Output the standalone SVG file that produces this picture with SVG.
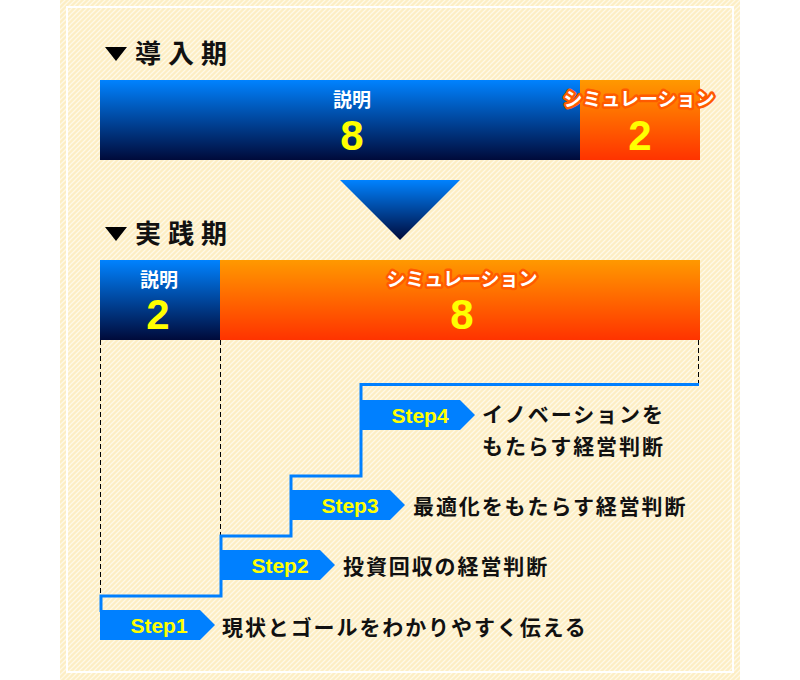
<svg xmlns="http://www.w3.org/2000/svg" width="800" height="680" viewBox="0 0 800 680">
<defs>
  <pattern id="stripes" width="5" height="5" patternUnits="userSpaceOnUse">
    <rect width="5" height="5" fill="#FDEEC4"/>
    <path d="M-1,1 L1,-1 M0,5 L5,0 M4,6 L6,4" stroke="#FFF9E8" stroke-width="1.3"/>
  </pattern>
  <linearGradient id="blue" x1="0" y1="0" x2="0" y2="1">
    <stop offset="0" stop-color="#0082FF"/>
    <stop offset="1" stop-color="#000A3A"/>
  </linearGradient>
  <linearGradient id="orange" x1="0" y1="0" x2="0" y2="1">
    <stop offset="0" stop-color="#FF9900"/>
    <stop offset="1" stop-color="#FF3300"/>
  </linearGradient>
  <style>
    .hdr { font-family: "Noto Sans CJK JP", sans-serif; font-weight: bold; font-size: 26px; fill: #111; letter-spacing: 7px; }
    .tri { fill: #000; }
    .lbl { font-family: "Noto Sans CJK JP", sans-serif; font-weight: bold; font-size: 19px; fill: #fff; text-anchor: middle; }
    .sim { font-family: "Noto Sans CJK JP", sans-serif; font-weight: bold; font-size: 19px; fill: #fff; text-anchor: middle; stroke: #FF5A00; stroke-width: 5px; stroke-linejoin: round; paint-order: stroke; }
    .num { font-family: "Liberation Sans", Arial, sans-serif; font-weight: bold; font-size: 42px; fill: #FFFF00; text-anchor: middle; }
    .dash { stroke: #000; stroke-width: 1; stroke-dasharray: 5 3; fill: none; }
    .stepline { stroke: #0080FF; stroke-width: 3; fill: none; }
    .box { fill: #0080FF; }
    .step { font-family: "Liberation Sans", Arial, sans-serif; font-weight: bold; font-size: 21px; fill: #FFFF00; text-anchor: middle; }
    .desc { font-family: "Noto Sans CJK JP", sans-serif; font-weight: bold; font-size: 21px; fill: #111; letter-spacing: 1.9px; }
  </style>
</defs>

<rect x="0" y="0" width="800" height="680" fill="#fff"/>
<rect x="60" y="0" width="680" height="680" fill="url(#stripes)"/>
<rect x="67" y="7" width="666" height="665" fill="none" stroke="#fff" stroke-width="2"/>

<g id="header-intro">
  <polygon class="tri" points="105,47 127,47 116,61"/>
  <text class="hdr" x="135" y="63">導入期</text>
</g>

<g id="bar-intro-explain">
  <rect x="100" y="80" width="480" height="80" fill="url(#blue)"/>
  <text class="lbl" x="352" y="107">説明</text>
  <text class="num" x="352" y="150">8</text>
</g>
<g id="bar-intro-sim">
  <rect x="580" y="80" width="120" height="80" fill="url(#orange)"/>
  <text class="sim" x="639" y="106">シミュレーション</text>
  <text class="num" x="640" y="150">2</text>
</g>

<g id="big-arrow">
  <polygon points="340,180 460,180 400,240" fill="url(#blue)"/>
</g>

<g id="header-practice">
  <polygon class="tri" points="105,227 127,227 116,241"/>
  <text class="hdr" x="135" y="243">実践期</text>
</g>

<g id="bar-practice-explain">
  <rect x="100" y="260" width="120" height="80" fill="url(#blue)"/>
  <text class="lbl" x="159" y="287">説明</text>
  <text class="num" x="158" y="329">2</text>
</g>
<g id="bar-practice-sim">
  <rect x="220" y="260" width="480" height="80" fill="url(#orange)"/>
  <text class="sim" x="462" y="286">シミュレーション</text>
  <text class="num" x="462" y="329">8</text>
</g>

<g id="connectors">
  <line class="dash" x1="100.5" y1="340" x2="100.5" y2="595"/>
  <line class="dash" x1="220.5" y1="340" x2="220.5" y2="535"/>
  <line class="dash" x1="698.5" y1="340" x2="698.5" y2="384"/>
  <path class="stepline" d="M101,612 V596 H221 V536 H291 V476 H361 V384.5 H699"/>
</g>

<g id="step1">
  <polygon class="box" points="100,610 200,610 215,625 200,640 100,640"/>
  <text class="step" x="159" y="633">Step1</text>
  <text class="desc" x="222" y="635">現状とゴールをわかりやすく伝える</text>
</g>
<g id="step2">
  <polygon class="box" points="220,550 320,550 335,565 320,580 220,580"/>
  <text class="step" x="280" y="573">Step2</text>
  <text class="desc" x="343" y="574">投資回収の経営判断</text>
</g>
<g id="step3">
  <polygon class="box" points="290,490 390,490 405,505 390,520 290,520"/>
  <text class="step" x="350" y="513">Step3</text>
  <text class="desc" x="413" y="514">最適化をもたらす経営判断</text>
</g>
<g id="step4">
  <polygon class="box" points="360,400 460,400 475,415 460,430 360,430"/>
  <text class="step" x="420" y="423">Step4</text>
  <text class="desc" x="482" y="422">イノベーションを</text>
  <text class="desc" x="482" y="454">もたらす経営判断</text>
</g>
</svg>
